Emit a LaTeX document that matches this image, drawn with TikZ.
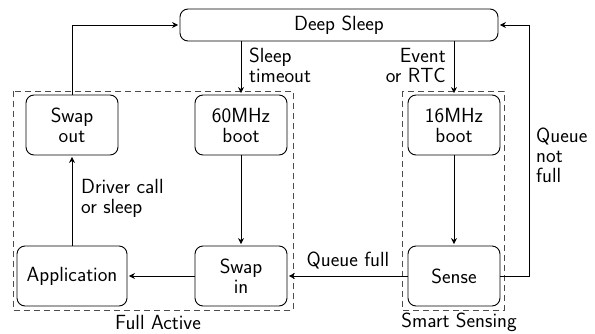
\documentclass[tikz,border=0pt]{standalone}
\usetikzlibrary{arrows.meta}
\begin{document}
\begin{tikzpicture}[x=1pt,y=-1pt,
  every node/.style={font=\sffamily\fontsize{20.5}{20}\selectfont},
  box/.style={draw, rounded corners=8pt, line width=0.9pt, align=center, minimum width=92pt, minimum height=60pt, inner sep=0pt},
  grp/.style={draw=black!70, dashed, dash pattern=on 6pt off 4pt, line width=0.9pt},
  conn/.style={-{Stealth[length=6pt,width=6pt,inset=2pt]}, line width=0.9pt, shorten >=1.5pt},
  lbl/.style={inner sep=0pt, align=left}]
\useasboundingbox (0,0) rectangle (595,333);
\draw[grp] (13,91) rectangle (293,310);
\draw[grp] (402,91) rectangle (504,310);
\node[box, minimum width=318pt, minimum height=32pt] (deep) at (339,25) {Deep Sleep};
\node[box] (swapout) at (72,125) {Swap\\out};
\node[box] (mhz60) at (241,125) {60MHz\\boot};
\node[box] (mhz16) at (454,125) {16MHz\\boot};
\node[box, minimum width=110pt] (app) at (72,276) {Application};
\node[box] (swapin) at (241,276) {Swap\\in};
\node[box] (sense) at (454,276) {Sense};
\draw[conn] (swapout.north) |- (deep.west);
\draw[conn] (deep.south -| mhz60) -- (mhz60.north);
\draw[conn] (deep.south -| mhz16) -- (mhz16.north);
\draw[conn] (mhz60.south) -- (swapin.north);
\draw[conn] (mhz16.south) -- (sense.north);
\draw[conn] (sense.west) -- (swapin.east);
\draw[conn] (swapin.west) -- (app.east);
\draw[conn] (app.north) -- (swapout.south);
\draw[conn] (sense.east) -- ++(29,0) |- (deep.east);
\node[lbl, anchor=west] (l1) at (249,65) {Sleep\\timeout};
\node[lbl, anchor=east, align=right] (l2) at (446,65) {Event\\or RTC};
\node[lbl, anchor=west] (l3) at (536,155) {Queue\\not\\full};
\node[lbl, anchor=west] (l4) at (81,198) {Driver call\\or sleep};
\node[lbl] (l5) at (348,260) {Queue full};
\node[lbl] (l6) at (158,322) {Full Active};
\node[lbl] (l7) at (459,322) {Smart Sensing};
\end{tikzpicture}
\end{document}
